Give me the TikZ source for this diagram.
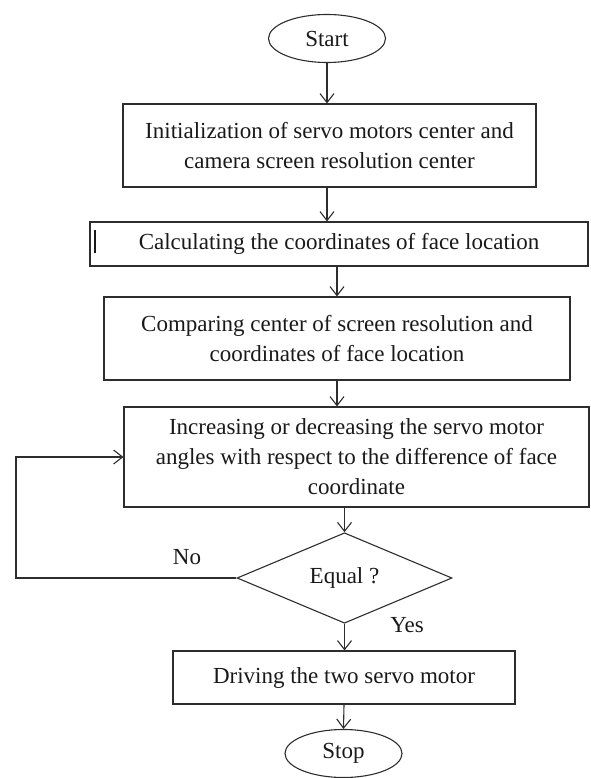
\documentclass[tikz,border=0pt]{standalone}
\usepackage{fontspec}
\setmainfont{Liberation Serif}
\usetikzlibrary{shapes.geometric, arrows.meta, positioning}
\definecolor{lineblack}{RGB}{45, 45, 45}
\definecolor{textblack}{RGB}{25, 25, 25}

\begin{document}
\begin{tikzpicture}[x=1pt, y=-1pt,
    every node/.style={font=\fontsize{23}{30}\selectfont, text=textblack},
    procbox/.style={draw=lineblack, line width=1.1pt, rectangle, inner sep=0pt, align=center},
    termnode/.style={draw=lineblack, line width=1.1pt, ellipse, inner sep=0pt, minimum width=117, minimum height=48},
    decision/.style={draw=lineblack, line width=1.1pt, diamond, inner sep=0pt, minimum width=215, minimum height=84},
    flow/.style={draw=lineblack, line width=1.1pt, -{Straight Barb[length=9pt, width=14pt]}}]
    \useasboundingbox (0,0) rectangle (590,778);

    % Terminals and steps
    \node[termnode] (start) at (327,38.5) {Start};
    \node[procbox, minimum width=413, minimum height=83] (init) at (329.5,145.5)
        {Initialization of servo motors center and\\camera screen resolution center};
    \node[procbox, minimum width=498, minimum height=44] (calc) at (339,244)
        {Calculating the coordinates of face location};
    \node[procbox, minimum width=466, minimum height=83] (comp) at (337,338.5)
        {Comparing center of screen resolution and\\coordinates of face location};
    \node[procbox, minimum width=465, minimum height=100] (adjust) at (356.5,457)
        {Increasing or decreasing the servo motor\\angles with respect to the difference of face\\coordinate};
    \node[decision] (equal) at (344.5,578) {Equal ?};
    \node[procbox, minimum width=342, minimum height=53] (drive) at (344,677.5)
        {Driving the two servo motor};
    \node[termnode] (stop) at (343.5,753.5) {Stop};

    % Branch labels
    \node (no) at (187,557) {No};
    \node (yes) at (407,625) {Yes};

    % Text cursor mark
    \draw[line width=2.2pt, textblack] (95,230) -- (95,253);

    % Flow
    \draw[flow] (start.south) -- (start.south |- init.north);
    \draw[flow] (start.south |- init.south) -- (start.south |- calc.north);
    \draw[flow] (comp.north |- calc.south) -- (comp.north);
    \draw[flow] (comp.south) -- (comp.south |- adjust.north);
    \draw[flow] (equal.north |- adjust.south) -- (equal.north);
    \draw[flow] (equal.south) -- (equal.south |- drive.north);
    \draw[flow] (drive.south) -- (stop.north);

    % Loop back
    \coordinate (loopx) at (16,578);
    \draw[flow] (equal.west) -- (equal.west -| loopx) |- (adjust.west);
\end{tikzpicture}
\end{document}
